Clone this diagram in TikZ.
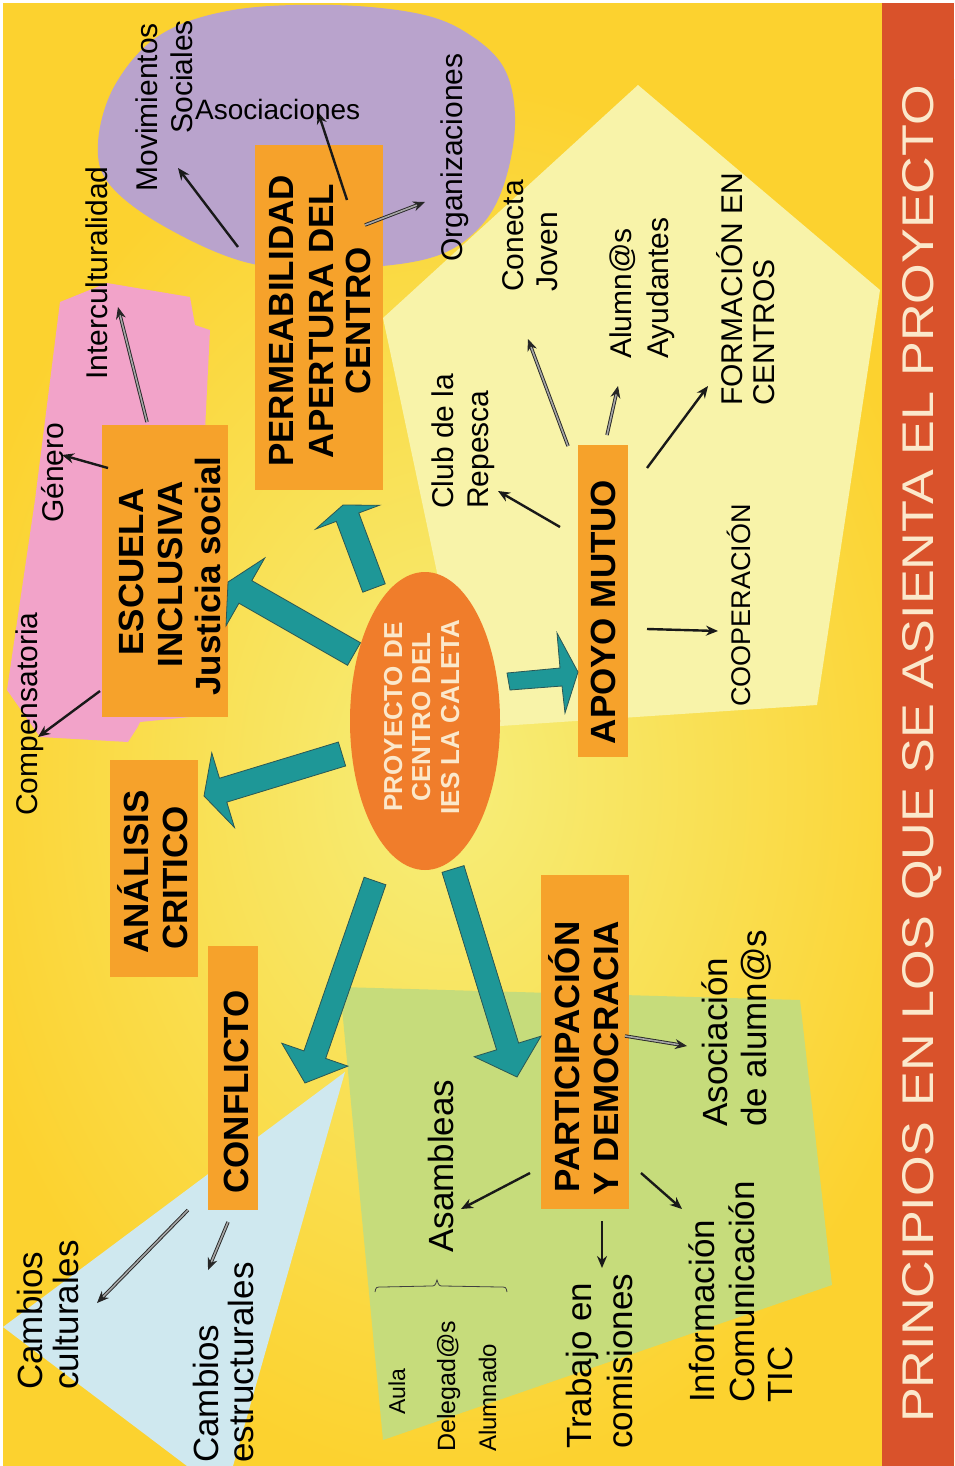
\documentclass[tikz,border=0pt]{standalone}
\usepackage{fontspec}
\setmainfont{Liberation Sans}
\usepackage{graphicx}
\usetikzlibrary{calc,arrows.meta,shapes.geometric}
\definecolor{bgout}{HTML}{FCD22F}
\definecolor{bgin}{HTML}{F6EE7A}
\definecolor{palepent}{HTML}{F8F3A9}
\definecolor{lilac}{HTML}{B9A3CC}
\definecolor{pinkc}{HTML}{F2A3C9}
\definecolor{greenc}{HTML}{C6DC7B}
\definecolor{bluec}{HTML}{CFE8EF}
\definecolor{boxor}{HTML}{F6A22B}
\definecolor{ellor}{HTML}{F07D2B}
\definecolor{stripec}{HTML}{D9522B}
\definecolor{stripetxt}{HTML}{FBE8CB}
\definecolor{tealc}{HTML}{1E9797}
\definecolor{tealdk}{HTML}{2B5755}
\newcommand{\blockarr}[5]{%
  \coordinate (bh) at ($(#2)!#5!(#1)$);
  \filldraw[tarrow] ($(#1)!#3!90:(#2)$) -- ($(bh)!#3!-90:(#1)$) -- ($(bh)!#4!-90:(#1)$) -- (#2)
     -- ($(bh)!#4!90:(#1)$) -- ($(bh)!#3!90:(#1)$) -- ($(#1)!#3!-90:(#2)$) -- cycle;}
\begin{document}
\begin{tikzpicture}[x=1pt,y=-1pt,
  box/.style={fill=boxor,inner sep=0pt,rotate=90},
  bt/.style={rotate=90,inner sep=0pt,anchor=base,font=\bfseries\fontsize{35}{40}\selectfont},
  ct/.style={rotate=90,inner sep=0pt,anchor=base,text=stripetxt,font=\bfseries\fontsize{26}{30}\selectfont},
  lb/.style={rotate=90,inner sep=0pt,anchor=base west,font=\fontsize{30}{36}\selectfont},
  lbl/.style={lb,font=\fontsize{35}{40}\selectfont},
  arr/.style={draw=black!90,line width=2.4pt,-{Stealth[length=12pt,width=10pt]}},
  dbl/.style={draw=black!85,line width=0.9pt,double=black!35,double distance=1.6pt,-{Stealth[length=12pt,width=10pt]}},
  tarrow/.style={fill=tealc,draw=tealdk,line width=0.8pt,line join=miter}]
\useasboundingbox (0,0) rectangle (954,1466);
% background
\fill[bgout] (0,0) rectangle (954,1466);
\begin{scope}
  \clip (0,0) rectangle (954,1466);
  \shade[inner color=bgin,outer color=bgout] (-60,80) rectangle (960,1480);
\end{scope}
% coloured regions
\fill[palepent] (638,85) -- (880,290) -- (817,705) -- (470,728) -- (383,318) -- cycle;
\fill[lilac] plot[smooth cycle,tension=0.6] coordinates {(98,143) (110,185) (167,228) (253,264) (350,268) (430,258) (475,232) (502,190) (515,125) (505,70) (470,35) (420,14) (333,5) (233,10) (160,35) (115,85)};
\fill[pinkc] (60,302) -- (107,283) -- (190,297) -- (195,325) -- (210,330) -- (205,430) -- (200,716) -- (140,722) -- (137,728) -- (128,742) -- (40,737) -- (7,690) -- (35,500) -- cycle;
\fill[greenc] (340,987) -- (800,1000) -- (832,1285) -- (383,1440) -- cycle;
\fill[bluec] (345,1072) -- (3,1327) -- (187,1466) -- (233,1466) -- cycle;
\fill[stripec] (882,0) rectangle (954,1466);
% boxes
\node[box,minimum width=345pt,minimum height=128pt] (perm) at (319,317.5) {};
\node[box,minimum width=292pt,minimum height=126pt] (escu) at (165,571) {};
\node[box,minimum width=217pt,minimum height=88pt] (anal) at (154,868) {};
\node[box,minimum width=264pt,minimum height=50pt] (conf) at (233,1078) {};
\node[box,minimum width=334pt,minimum height=88pt] (part) at (585,1042) {};
\node[box,minimum width=312pt,minimum height=50pt] (apoy) at (603,601) {};
\node[ellipse,fill=ellor,inner sep=0pt,minimum width=150pt,minimum height=298pt] (core) at (425,721) {};
% teal block arrows
\coordinate (ta1) at (374,588); \coordinate (tp1) at (343,505);
\coordinate (ta2) at (354,654); \coordinate (tp2) at (228,582);
\coordinate (ta3) at (342,754); \coordinate (tp3) at (204,796);
\coordinate (ta4) at (375,881); \coordinate (tp4) at (305,1083);
\coordinate (ta5) at (453,869); \coordinate (tp5) at (517,1077);
\blockarr{ta1}{tp1}{12pt}{34pt}{13pt}
\blockarr{ta2}{tp2}{13pt}{39pt}{20pt}
\blockarr{ta3}{tp3}{12.5pt}{39pt}{20pt}
\blockarr{ta4}{tp4}{11.5pt}{35pt}{30pt}
\blockarr{ta5}{tp5}{11.5pt}{35pt}{32pt}
\filldraw[tarrow] (507,673) -- (560,668) -- (557,633) -- (578,672) -- (565,713) -- (562,686) -- (510,690) -- cycle;
% black arrows
\foreach \i/\sx/\sy/\ex/\ey/\st in {1/238/247/178/168/arr, 2/347/200/318/112/arr, 3/365/225/425/202/dbl,
  4/147/422/118/307/dbl, 5/108/468/62/455/arr, 6/100/691/38/737/arr, 7/560/527/498/491/arr,
  8/568/446/528/339/dbl, 9/607/435/618/386/dbl, 10/647/468/708/386/arr, 11/647/629/718/631/arr,
  12/188/1210/97/1303/dbl, 13/228/1222/208/1270/dbl, 14/530/1173/461/1209/arr,
  15/602/1221/602/1268/arr, 16/641/1173/682/1209/arr, 17/625/1036/687/1046/dbl}
  {\coordinate (s\i) at (\sx,\sy); \coordinate (e\i) at (\ex,\ey); \draw[\st] (s\i) -- (e\i);}
% brace
\draw[black!75,line width=0.8pt] (375,1292) .. controls (376,1287) .. (382,1287) -- (430,1286)
  .. controls (435,1286) .. (437,1280) .. controls (439,1286) .. (444,1286) -- (500,1287)
  .. controls (506,1287) .. (507,1292);
% box texts
\node[bt] (x1) at (293,321) {PERMEABILIDAD};
\node[bt] (x2) at (333,321) {APERTURA DEL};
\node[bt] (x3) at (370,321) {CENTRO};
\node[bt] (x4) at (143,572) {ESCUELA};
\node[bt] (x5) at (182,574) {INCLUSIVA};
\node[bt] (x6) at (220,576) {Justicia social};
\node[bt] (x7) at (148,872) {ANÁLISIS};
\node[bt] (x8) at (187,878) {CRITICO};
\node[bt] (x9) at (248,1092) {CONFLICTO};
\node[bt] (x10) at (579,1057) {PARTICIPACIÓN};
\node[bt] (x11) at (618,1058) {Y DEMOCRACIA};
\node[bt] (x12) at (615,612) {APOYO MUTUO};
\node[ct] (c1) at (402,717) {PROYECTO DE};
\node[ct] (c2) at (430,717) {CENTRO DEL};
\node[ct] (c3) at (459,717) {IES LA CALETA};
% labels
\node[lb,anchor=base east] (l1) at (157,23) {Movimientos};
\node[lb,anchor=base east] (l2) at (192,20) {Sociales};
\node[inner sep=0pt,anchor=base west,font=\fontsize{28}{34}\selectfont] (l3) at (195,120) {Asociaciones};
\node[lb] (l4) at (462,262) {Organizaciones};
\node[lb] (l5) at (107,380) {Interculturalidad};
\node[lb] (l6) at (63,523) {Género};
\node[lb] (l7) at (37,816) {Compensatoria};
\node[lb] (l8) at (453,509) {Club de la};
\node[lb] (l9) at (488,509) {Repesca};
\node[lb] (l10) at (523,292) {Conecta};
\node[lb] (l11) at (557,292) {Joven};
\node[lb] (l12) at (631,359) {Alumn@s};
\node[lb] (l13) at (668,359) {Ayudantes};
\node[lb] (l14) at (742,406) {FORMACIÓN EN};
\node[lb] (l15) at (774,406) {CENTROS};
\node[lb,font=\fontsize{27}{32}\selectfont] (l16) at (750,707) {COOPERACIÓN};
\node[lbl] (l17) at (453,1253) {Asambleas};
\node[lb,font=\fontsize{23}{28}\selectfont] (l18) at (405,1415) {Aula};
\node[lb,font=\fontsize{25}{30}\selectfont] (l19) at (455,1452) {Delegad@s};
\node[lb,font=\fontsize{24}{28}\selectfont] (l20) at (496,1452) {Alumnado};
\node[lbl] (l21) at (591,1449) {Trabajo en};
\node[lbl] (l22) at (632,1449) {comisiones};
\node[lbl] (l23) at (714,1403) {Información};
\node[lbl] (l24) at (754,1403) {Comunicación};
\node[lbl] (l25) at (792,1403) {TIC};
\node[lbl] (l26) at (727,1127) {Asociación};
\node[lbl] (l27) at (766,1127) {de alumn@s};
\node[lbl] (l28) at (42,1390) {Cambios};
\node[lbl] (l29) at (78,1390) {culturales};
\node[lbl] (l30) at (218,1463) {Cambios};
\node[lbl] (l31) at (253,1463) {estructurales};
% title
\node[rotate=90,anchor=base west,inner sep=0pt,text=stripetxt] (title) at (933,1423)
  {\resizebox{1338pt}{31pt}{\fontsize{50}{50}\selectfont PRINCIPIOS EN LOS QUE SE ASIENTA EL PROYECTO}};
% thin white border
\fill[white] (0,0) rectangle (954,3);
\fill[white] (0,0) rectangle (3,1466);
\end{tikzpicture}
\end{document}
